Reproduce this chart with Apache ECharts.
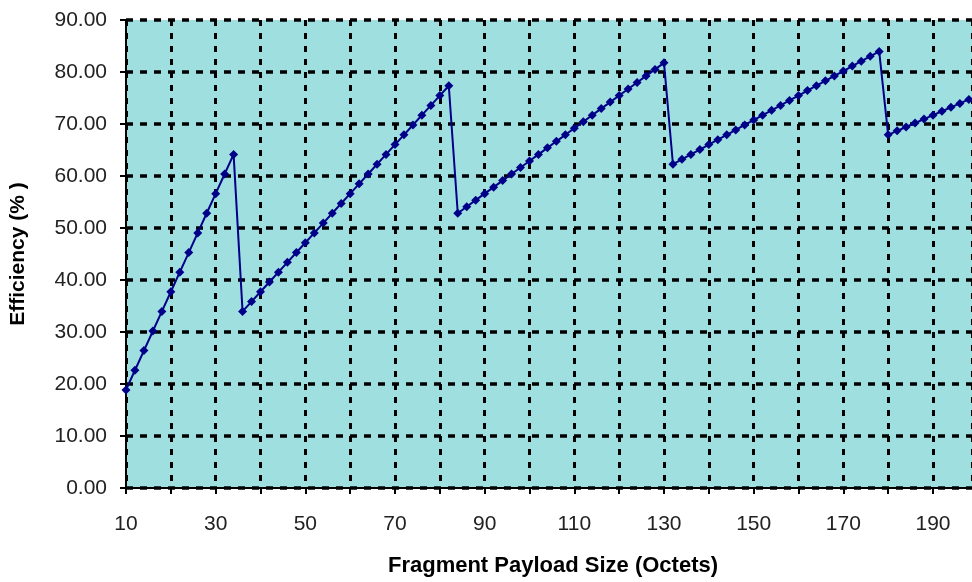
<!DOCTYPE html>
<html>
<head>
<meta charset="utf-8">
<script src="https://cdn.jsdelivr.net/npm/echarts@6/dist/echarts.min.js"></script>
<style>
html,body{margin:0;padding:0;background:#fff;}
#c{width:972px;height:582px;}
</style>
</head>
<body>
<div id="c"></div>
<script>
// Fragment payload size (octets)
var payloadSizes = [10,12,14,16,18,20,22,24,26,28,30,32,34,36,38,40,42,44,46,48,50,52,54,56,58,60,62,64,66,68,70,72,74,76,78,80,82,84,86,88,90,92,94,96,98,100,102,104,106,108,110,112,114,116,118,120,122,124,126,128,130,132,134,136,138,140,142,144,146,148,150,152,154,156,158,160,162,164,166,168,170,172,174,176,178,180,182,184,186,188,190,192,194,196,198];
// Efficiency (%)
var efficiency = [18.87,22.64,26.42,30.19,33.96,37.74,41.51,45.28,49.06,52.83,56.60,60.38,64.15,
  33.96,35.85,37.74,39.62,41.51,43.40,45.28,47.17,49.06,50.94,52.83,54.72,56.60,58.49,60.38,62.26,64.15,66.04,67.92,69.81,71.70,73.58,75.47,77.36,
  52.83,54.09,55.35,56.60,57.86,59.12,60.38,61.64,62.89,64.15,65.41,66.67,67.92,69.18,70.44,71.70,72.96,74.21,75.47,76.73,77.99,79.25,80.50,81.76,
  62.26,63.21,64.15,65.09,66.04,66.98,67.92,68.87,69.81,70.75,71.70,72.64,73.58,74.53,75.47,76.42,77.36,78.30,79.25,80.19,81.13,82.08,83.02,83.96,
  67.92,68.68,69.43,70.19,70.94,71.70,72.45,73.21,73.96,74.72];
var xTitle = 'Fragment Payload Size (Octets)';
var yTitle = 'Efficiency (% )';

var points = payloadSizes.map(function(x, i){ return [x, efficiency[i]]; });

var chart = echarts.init(document.getElementById('c'), null, {renderer:'canvas'});
var font = 'Liberation Sans, Arial, sans-serif';
chart.setOption({
  animation:false,
  backgroundColor:'#ffffff',
  grid:{left:125, right:-3, top:20, bottom:93, show:true, backgroundColor:'#a0dfe0', borderWidth:0},
  xAxis:{
    type:'value', min:10, max:198.7, interval:10,
    name:xTitle, nameLocation:'middle', nameGap:67,
    nameTextStyle:{fontFamily:font, fontSize:22, fontWeight:'bold', color:'#000', padding:[0,0,0,8]},
    axisLine:{show:true, onZero:false, lineStyle:{color:'#000', width:2}},
    axisTick:{show:true, length:6, lineStyle:{color:'#000', width:2}},
    axisLabel:{fontFamily:font, fontSize:21, color:'#222', margin:26, showMaxLabel:false,
      formatter:function(v){ return (Math.round(v) === v && (v - 10) % 20 === 0) ? String(v) : ''; }},
    splitLine:{show:true, lineStyle:{color:'#000', width:3, type:[6,7]}}
  },
  yAxis:{
    type:'value', min:0, max:90, interval:10,
    name:yTitle, nameLocation:'middle', nameGap:97,
    nameTextStyle:{fontFamily:font, fontSize:21, fontWeight:'bold', color:'#000'},
    axisLine:{show:true, lineStyle:{color:'#000', width:2}},
    axisTick:{show:true, length:6, lineStyle:{color:'#000', width:2}},
    axisLabel:{fontFamily:font, fontSize:21, color:'#222', margin:19,
      formatter:function(v){ return v.toFixed(2); }},
    splitLine:{show:true, lineStyle:{color:'#000', width:3.5, type:[7,7]}}
  },
  series:[{
    type:'line', data:points,
    lineStyle:{color:'#000088', width:2},
    itemStyle:{color:'#000088'},
    symbol:'diamond', symbolSize:9, showSymbol:true
  }]
});
</script>
</body>
</html>
